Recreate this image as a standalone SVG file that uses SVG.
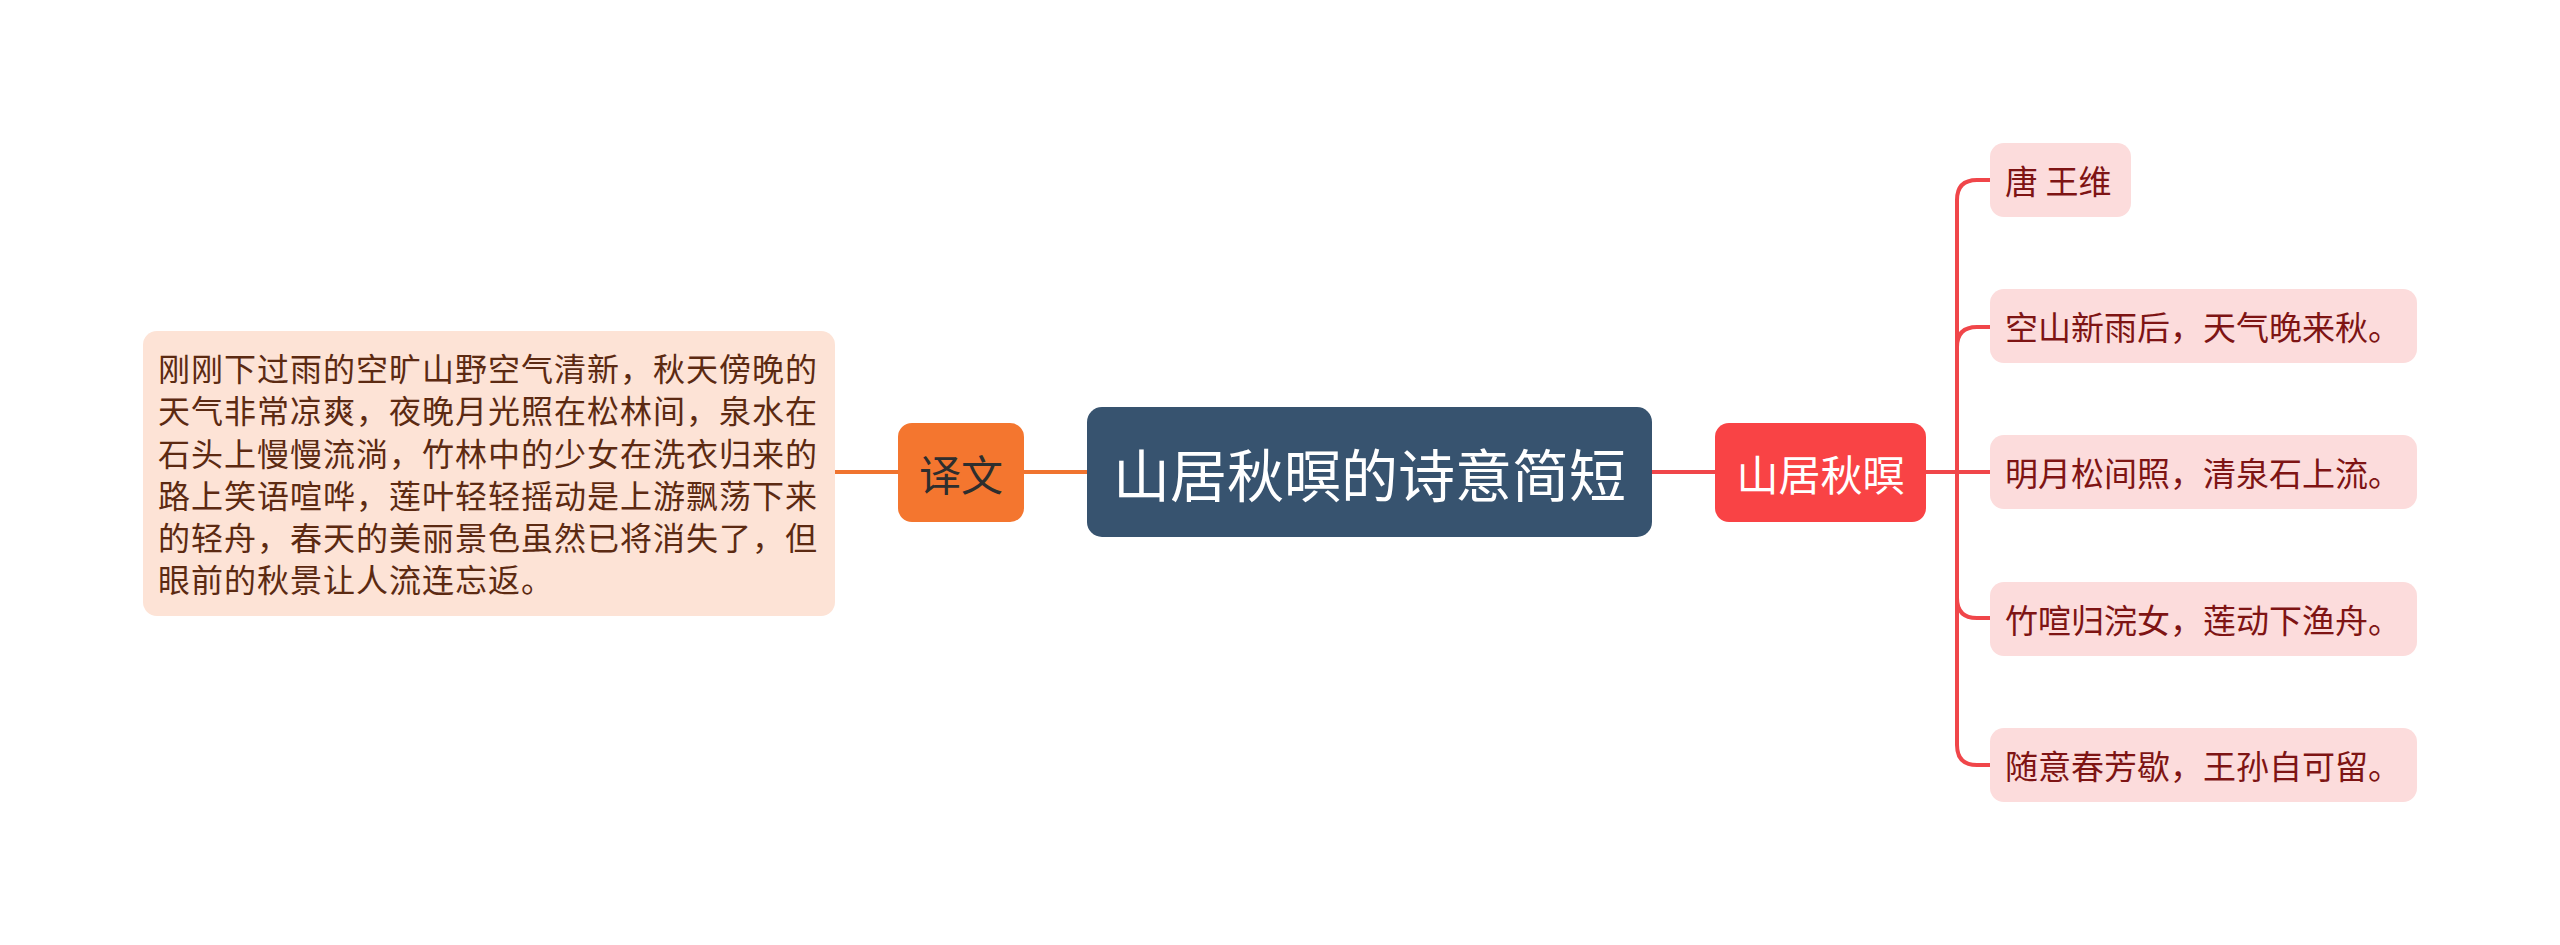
<svg xmlns="http://www.w3.org/2000/svg" width="2560" height="945" viewBox="0 0 2560 945">
<style>
  text { font-family: "Noto Sans CJK SC", "Noto Sans", sans-serif; dominant-baseline: central; }
  .conn-o { stroke: #F0742F; stroke-width: 4; fill: none; }
  .conn-r { stroke: #F0464A; stroke-width: 4; fill: none; }
  .leaf rect { fill: #FCDCDC; }
  .leaf text { fill: #7E1414; font-size: 33px; }
  .desc text { fill: #5C2A12; font-size: 32px; letter-spacing: 1px; }
</style>
<rect width="2560" height="945" fill="#FFFFFF"/>
<g id="connectors">
  <path class="conn-o" d="M835 472 H898"/>
  <path class="conn-o" d="M1024 472 H1087"/>
  <path class="conn-r" d="M1652 472 H1715"/>
  <path class="conn-r" d="M1926 472 H1990"/>
  <path class="conn-r" d="M1990 180 H1977 Q1957 180 1957 200 V745 Q1957 765 1977 765 H1990"/>
  <path class="conn-r" d="M1990 327 H1977 Q1957 327 1957 347"/>
  <path class="conn-r" d="M1990 618 H1977 Q1957 618 1957 598"/>
</g>
<g id="node-desc" class="desc">
  <rect x="143" y="331" width="692" height="285" rx="14" fill="#FDE3D6"/>
  <text x="158" y="367">刚刚下过雨的空旷山野空气清新，秋天傍晚的</text>
  <text x="158" y="409">天气非常凉爽，夜晚月光照在松林间，泉水在</text>
  <text x="158" y="452">石头上慢慢流淌，竹林中的少女在洗衣归来的</text>
  <text x="158" y="494">路上笑语喧哗，莲叶轻轻摇动是上游飘荡下来</text>
  <text x="158" y="536">的轻舟，春天的美丽景色虽然已将消失了，但</text>
  <text x="158" y="578">眼前的秋景让人流连忘返。</text>
</g>
<g id="node-yiwen">
  <rect x="898" y="423" width="126" height="99" rx="14" fill="#F4762F"/>
  <text x="961" y="472" font-size="42" fill="#2E2E2E" text-anchor="middle">译文</text>
</g>
<g id="node-root">
  <rect x="1087" y="407" width="565" height="130" rx="15" fill="#37536F"/>
  <text x="1369.5" y="472" font-size="57" fill="#FFFFFF" text-anchor="middle">山居秋暝的诗意简短</text>
</g>
<g id="node-shanju">
  <rect x="1715" y="423" width="211" height="99" rx="14" fill="#F94345"/>
  <text x="1820.5" y="472" font-size="42" fill="#FFFFFF" text-anchor="middle">山居秋暝</text>
</g>
<g id="leaf-1" class="leaf">
  <rect x="1990" y="143" width="141" height="74" rx="14"/>
  <text x="2005" y="180">唐 王维</text>
</g>
<g id="leaf-2" class="leaf">
  <rect x="1990" y="289" width="427" height="74" rx="14"/>
  <text x="2005" y="326">空山新雨后，天气晚来秋。</text>
</g>
<g id="leaf-3" class="leaf">
  <rect x="1990" y="435" width="427" height="74" rx="14"/>
  <text x="2005" y="472">明月松间照，清泉石上流。</text>
</g>
<g id="leaf-4" class="leaf">
  <rect x="1990" y="582" width="427" height="74" rx="14"/>
  <text x="2005" y="619">竹喧归浣女，莲动下渔舟。</text>
</g>
<g id="leaf-5" class="leaf">
  <rect x="1990" y="728" width="427" height="74" rx="14"/>
  <text x="2005" y="765">随意春芳歇，王孙自可留。</text>
</g>
</svg>
